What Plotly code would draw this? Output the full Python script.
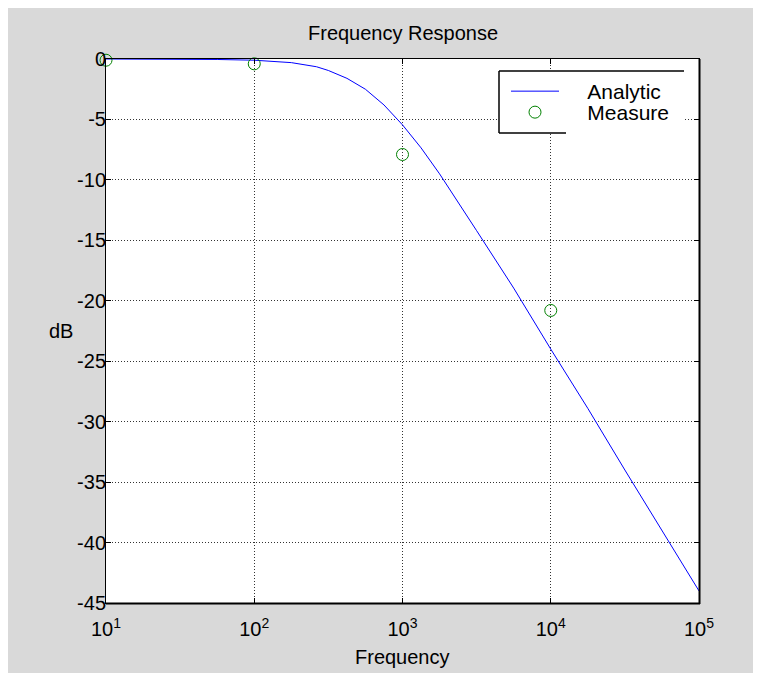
import plotly.graph_objects as go

# ---- data ----
freq_analytic = [10, 31.6, 56.2, 100, 133, 178, 263, 316, 422, 562, 750, 1000, 1334,
                 1778, 3162, 5623, 10000, 17783, 31623, 56234, 100000]
db_analytic = [0.0, -0.01, -0.04, -0.1, -0.18, -0.3, -0.64, -0.95, -1.6, -2.5, -3.8,
               -5.45, -7.35, -9.5, -14.2, -18.95, -24.0, -28.9, -34.0, -39.0, -44.0]
freq_measure = [10, 100, 1000, 10000]
db_measure = [-0.1, -0.4, -7.9, -20.8]

x_tickvals = [10, 100, 1000, 10000, 100000]
x_ticktext = ["10<sup>1</sup>", "10<sup>2</sup>", "10<sup>3</sup>", "10<sup>4</sup>", "10<sup>5</sup>"]
y_tickvals = [0, -5, -10, -15, -20, -25, -30, -35, -40, -45]
y_ticktext = ["0", "-5", "-10", "-15", "-20", "-25", "-30", "-35", "-40", "-45"]

W, H = 761, 673
L, R, T, B = 98, 691, 51, 595
PW, PH = R - L, B - T

def px(xp):
    return (xp - L) / PW

def py(yp):
    return (B - yp) / PH

FONT = "Liberation Sans, Arial, sans-serif"
NB = "\u00a0" * 4

fig = go.Figure()
fig.add_trace(go.Scatter(x=freq_analytic, y=db_analytic, mode="lines",
                         line=dict(color="#0000ff", width=1), cliponaxis=False,
                         name=NB + "Analytic", legend="legend"))
fig.add_trace(go.Scatter(x=freq_measure, y=db_measure, mode="markers",
                         marker=dict(symbol="circle-open", size=12, color="#008000",
                                     line=dict(width=1, color="#008000")),
                         cliponaxis=False,
                         name=NB + "Measure", legend="legend2"))

axis_common = dict(showline=True, linecolor="black", linewidth=1, mirror="allticks",
                   ticks="inside", ticklen=5, tickcolor="black", tickwidth=1,
                   showgrid=True, gridcolor="#333333", gridwidth=1, griddash="1px,2px",
                   zeroline=False, tickfont=dict(family=FONT, size=20, color="black"))

fig.update_xaxes(type="log", range=[1, 5], tickmode="array", tickvals=x_tickvals,
                 ticktext=x_ticktext, ticklabelstandoff=8, **axis_common)
fig.update_yaxes(range=[-45, 0], tickmode="array", tickvals=y_tickvals,
                 ticktext=y_ticktext, ticklabelstandoff=-5, **axis_common)

shapes = [
    # thicker bottom/right border
    dict(type="line", xref="paper", yref="paper", x0=0, x1=px(R + 1), y0=py(B + 0.5), y1=py(B + 0.5),
         line=dict(color="black", width=2)),
    dict(type="line", xref="paper", yref="paper", x0=px(R + 0.5), x1=px(R + 0.5), y0=py(B + 1), y1=1,
         line=dict(color="black", width=2)),
    # legend box
    dict(type="rect", xref="paper", yref="paper", x0=px(491), x1=px(676), y0=py(125), y1=py(63),
         fillcolor="white", line=dict(width=0), layer="above"),
    dict(type="line", xref="paper", yref="paper", x0=px(491), x1=px(676), y0=py(63), y1=py(63),
         line=dict(color="black", width=1.5)),
    dict(type="line", xref="paper", yref="paper", x0=px(491), x1=px(491), y0=py(63), y1=py(125),
         line=dict(color="black", width=1.5)),
    dict(type="line", xref="paper", yref="paper", x0=px(491), x1=px(558), y0=py(125), y1=py(125),
         line=dict(color="black", width=1.5)),
]

leg_common = dict(bgcolor="rgba(0,0,0,0)", borderwidth=0, itemwidth=48,
                  font=dict(family=FONT, size=21, color="black"),
                  xanchor="left", yanchor="middle", itemclick=False)

annotations = [
    dict(text="Frequency Response", xref="paper", yref="paper", x=0.5, y=py(25),
         showarrow=False, xanchor="center", yanchor="middle",
         font=dict(family=FONT, size=20, color="black")),
    dict(text="Frequency", xref="paper", yref="paper", x=0.5, y=py(649),
         showarrow=False, xanchor="center", yanchor="middle",
         font=dict(family=FONT, size=20, color="black")),
    dict(text="dB", xref="paper", yref="paper", x=px(53), y=py(323),
         showarrow=False, xanchor="center", yanchor="middle",
         font=dict(family=FONT, size=20, color="black")),
]

fig.update_layout(
    width=W, height=H,
    margin=dict(l=L, r=W - R, t=T, b=H - B, autoexpand=False),
    paper_bgcolor="#d9d9d9", plot_bgcolor="white",
    shapes=shapes, annotations=annotations,
    showlegend=True,
    legend=dict(x=px(498), y=py(83.5), **leg_common),
    legend2=dict(x=px(498), y=py(104.5), **leg_common),
)

fig.write_html("out.html")
